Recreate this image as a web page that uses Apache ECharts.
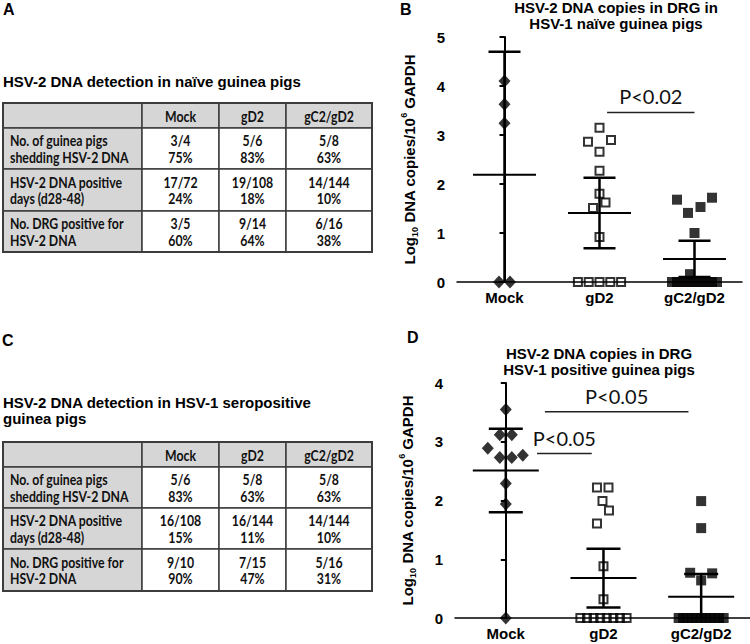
<!DOCTYPE html>
<html>
<head>
<meta charset="utf-8">
<script src="https://cdn.jsdelivr.net/npm/echarts@6/dist/echarts.min.js"></script>
<style>
  html, body { margin: 0; padding: 0; background: #fff; }
  #chart { width: 750px; height: 644px; }
</style>
</head>
<body>
<div id="chart"></div>
<script>
// x categories shared by the two scatter plots and the two tables
const groups = ['Mock', 'gD2', 'gC2/gD2'];

// panel B: Log10 DNA copies / 10^6 GAPDH, HSV-1 naive guinea pigs
const mockB = [4.10, 3.63, 3.24, 0, 0];
const gd2B = [3.15, 2.90, 2.86, 2.66, 2.27, 1.80, 1.62, 1.51, 0.92, 0, 0, 0, 0, 0];
const gc2gd2B = [1.72, 1.68, 1.53, 1.41, 1.00, 0.16, 0, 0, 0, 0, 0, 0, 0, 0, 0, 0];
const meanB = [2.19, 1.41, 0.47];
const sdB = [2.51, 0.72, 0.37];

// panel D: same measure, HSV-1 seropositive guinea pigs
const mockD = [3.55, 3.12, 3.12, 2.89, 2.77, 2.73, 2.73, 2.29, 1.94, 0];
const gd2D = [2.22, 2.22, 1.99, 1.83, 1.61, 0.88, 0.32, 0, 0, 0, 0, 0, 0, 0, 0];
const gc2gd2D = [1.99, 1.53, 0.77, 0.76, 0.64, 0, 0, 0, 0, 0, 0, 0, 0, 0, 0, 0];
const meanD = [2.51, 0.68, 0.36];
const sdD = [0.71, 0.50, 0.39];

// significance brackets: [from, to, level, label]
const sigB = [[1.08, 2.0, 3.46, 'P<0.02']];
const sigD = [[0.40, 1.87, 3.51, 'P<0.05'], [0.32, 0.88, 2.80, 'P<0.05']];

// tables A and C
const tableRows = ['No. of guinea pigs\nshedding HSV-2 DNA', 'HSV-2 DNA positive\ndays (d28-48)', 'No. DRG positive for\nHSV-2 DNA'];
const fracA = [['3/4', '5/6', '5/8'], ['17/72', '19/108', '14/144'], ['3/5', '9/14', '6/16']];
const pctA = [['75%', '83%', '63%'], ['24%', '18%', '10%'], ['60%', '64%', '38%']];
const fracC = [['5/6', '5/8', '5/8'], ['16/108', '16/144', '14/144'], ['9/10', '7/15', '5/16']];
const pctC = [['83%', '63%', '63%'], ['15%', '11%', '10%'], ['90%', '47%', '31%']];

// horizontal dodge of overlapping points (px), as laid out in the figure
const mockBDx = [0, 0, 0, -5.5, 5.5];
const gd2BDx = [0, 11.5, -11.5, 0, 0, 0, 6, -6.5, 0, -21.6, -10.8, 0, 10.8, 21.6];
const gc2gd2BDx = [17.5, -17.5, 6, -6.5, 0, -4.5, -22.5, -17.5, -12.5, -7.5, -2.5, 2.5, 7.5, 12.5, 17.5, 22.5];
const mockDDx = [0, -6, 6, -18, 17, -6, 6, 0, 0, 0];
const gd2DDx = [-6.5, 5, -1, 5.5, -6.5, 0, 0, -23.1, -16.5, -9.9, -3.3, 3.3, 9.9, 16.5, 23.1];
const gc2gd2DDx = [0, 0, -11, 11, 0, -22.5, -18, -13.5, -9, -4.5, 0, 4.5, 9, 13.5, 18, 22.5];

const SANS = '"Liberation Sans", Arial, sans-serif';
const TABLE_FONT = 'Lato, "Open Sans", sans-serif';

const chart = echarts.init(document.getElementById('chart'), null, { renderer: 'svg' });

const diamond = { symbol: 'diamond', symbolSize: [12, 13], itemStyle: { color: '#000' } };
const openSquare = { symbol: 'rect', symbolSize: 8, itemStyle: { color: 'rgba(0,0,0,0)', borderColor: '#000', borderWidth: 2 } };
const filledSquare = { symbol: 'rect', symbolSize: 10, itemStyle: { color: '#000' } };

function pointsSeries(axisIdx, groupIdx, values, dx, look) {
  return Object.assign({
    type: 'scatter',
    xAxisIndex: axisIdx,
    yAxisIndex: axisIdx,
    clip: false,
    z: 5,
    data: values.map((v, k) => ({ value: [groupIdx, v], symbolOffset: [dx[k], 0] })),
  }, look);
}

function errorBars(axisIdx, means, sds, meanHalf, capHalf) {
  return {
    type: 'custom',
    xAxisIndex: axisIdx,
    yAxisIndex: axisIdx,
    z: 3,
    encode: { x: 0, y: 1 },
    data: means.map((m, i) => [i, m, sds[i]]),
    renderItem(params, api) {
      const i = api.value(0);
      const m = api.value(1);
      const s = api.value(2);
      const c = api.coord([i, m]);
      const top = api.coord([i, m + s]);
      const low = m - s;
      const bot = api.coord([i, Math.max(0, low)]);
      const st = { stroke: '#000', lineWidth: 2.5 };
      const children = [
        { type: 'line', shape: { x1: c[0] - meanHalf, y1: c[1], x2: c[0] + meanHalf, y2: c[1] }, style: { stroke: '#000', lineWidth: 2 } },
        { type: 'line', shape: { x1: c[0], y1: top[1], x2: c[0], y2: bot[1] }, style: st },
        { type: 'line', shape: { x1: c[0] - capHalf, y1: top[1], x2: c[0] + capHalf, y2: top[1] }, style: st },
      ];
      if (low > 0) {
        children.push({ type: 'line', shape: { x1: c[0] - capHalf, y1: bot[1], x2: c[0] + capHalf, y2: bot[1] }, style: st });
      }
      return { type: 'group', children };
    },
  };
}

function sigBars(axisIdx, bars) {
  return {
    type: 'custom',
    xAxisIndex: axisIdx,
    yAxisIndex: axisIdx,
    z: 4,
    encode: { x: [0, 1], y: 2 },
    data: bars.map((b) => [b[0], b[1], b[2]]),
    renderItem(params, api) {
      const a = api.coord([api.value(0), api.value(2)]);
      const b = api.coord([api.value(1), api.value(2)]);
      return {
        type: 'group',
        children: [
          { type: 'line', shape: { x1: a[0], y1: a[1], x2: b[0], y2: b[1] }, style: { stroke: '#222', lineWidth: 1.5 } },
          {
            type: 'text',
            x: (a[0] + b[0]) / 2,
            y: a[1] - 6,
            style: {
              text: bars[params.dataIndex][3],
              align: 'center',
              verticalAlign: 'bottom',
              font: '20px ' + TABLE_FONT,
              fill: '#111',
            },
          },
        ],
      };
    },
  };
}

function xAxisFor(grid, min) {
  return {
    gridIndex: grid,
    type: 'value',
    min: min,
    max: 2.5,
    axisLine: { show: true, lineStyle: { color: '#000', width: 1.5 } },
    axisTick: { show: false },
    splitLine: { show: false },
    axisLabel: {
      customValues: [0, 1, 2],
      formatter: (v) => groups[Math.round(v)],
      color: '#000',
      fontFamily: SANS,
      fontWeight: 'bold',
      fontSize: 15,
      margin: 8,
    },
  };
}

function yAxisFor(grid, max) {
  return {
    gridIndex: grid,
    type: 'value',
    min: 0,
    max: max,
    interval: 1,
    axisLine: { show: true, lineStyle: { color: '#000', width: 2 } },
    axisTick: { show: true, length: 5, lineStyle: { color: '#000', width: 2 } },
    splitLine: { show: false },
    axisLabel: { color: '#000', fontFamily: SANS, fontWeight: 'bold', fontSize: 15, margin: 12 },
    name: 'Log{sub|10} DNA copies/10{sup|6} GAPDH',
    nameLocation: 'middle',
    nameRotate: 90,
    nameGap: 38,
    nameTextStyle: {
      color: '#000',
      fontFamily: SANS,
      fontWeight: 'bold',
      fontSize: 15,
      lineHeight: 20,
      rich: {
        sub: { fontFamily: SANS, fontWeight: 'bold', fontSize: 9, verticalAlign: 'bottom', lineHeight: 14 },
        sup: { fontFamily: SANS, fontWeight: 'bold', fontSize: 9, verticalAlign: 'top', lineHeight: 14 },
      },
    },
  };
}

// table built from the arrays above, drawn as graphic elements
// (Lato squeezed horizontally to get close to the narrow Calibri of the original)
function tableGraphic(colEdges, rowEdges, frac, pct) {
  const els = [];
  const border = '#3c3c3c';
  const textStyle = { font: 'bold 15px ' + TABLE_FONT, lineHeight: 16.5, fill: '#111', verticalAlign: 'middle' };
  for (let r = 0; r < rowEdges.length - 1; r++) {
    for (let c = 0; c < colEdges.length - 1; c++) {
      const gray = r === 0 || c === 0;
      els.push({
        type: 'rect',
        shape: { x: colEdges[c], y: rowEdges[r], width: colEdges[c + 1] - colEdges[c], height: rowEdges[r + 1] - rowEdges[r] },
        style: { fill: gray ? '#d6d6d6' : '#fff', stroke: border, lineWidth: 1.5 },
      });
      const cx = (colEdges[c] + colEdges[c + 1]) / 2;
      const cy = (rowEdges[r] + rowEdges[r + 1]) / 2;
      let text = null;
      if (r === 0 && c > 0) text = groups[c - 1];
      else if (r > 0 && c > 0) text = frac[r - 1][c - 1] + '\n' + pct[r - 1][c - 1];
      if (text) {
        els.push({ type: 'text', x: cx, y: cy, scaleX: 0.82, style: Object.assign({ text, align: 'center' }, textStyle) });
      } else if (c === 0 && r > 0) {
        els.push({ type: 'text', x: colEdges[0] + 7, y: cy, scaleX: 0.82, style: Object.assign({ text: tableRows[r - 1], align: 'left' }, textStyle) });
      }
    }
  }
  els.push({
    type: 'rect',
    shape: { x: colEdges[0], y: rowEdges[0], width: colEdges[colEdges.length - 1] - colEdges[0], height: rowEdges[rowEdges.length - 1] - rowEdges[0] },
    style: { fill: 'none', stroke: border, lineWidth: 2 },
  });
  return els;
}

function label(text, x, y, size, align) {
  return {
    type: 'text', x, y,
    style: { text, align: align || 'left', verticalAlign: 'top', font: 'bold ' + size + 'px ' + SANS, lineHeight: size + 1, fill: '#000' },
  };
}

const tableCols = [3, 142, 219, 286, 372];

const graphics = [].concat(
  [
    label('A', 3, 1, 16),
    label('HSV-2 DNA detection in naïve guinea pigs', 3, 73, 15),
    label('B', 400, 1, 16),
    label('HSV-2 DNA copies in DRG in\nHSV-1 naïve guinea pigs', 616, -1, 15, 'center'),
    label('C', 2, 332, 16),
    label('HSV-2 DNA detection in HSV-1 seropositive\nguinea pigs', 3, 394, 15),
    label('D', 407, 329, 16),
    label('HSV-2 DNA copies in DRG\nHSV-1 positive guinea pigs', 599, 345, 15, 'center'),
  ],
  tableGraphic(tableCols, [103, 128, 169, 211, 252], fracA, pctA),
  tableGraphic(tableCols, [442, 467, 508, 549, 591], fracC, pctC)
);

chart.setOption({
  animation: false,
  textStyle: { fontFamily: SANS },
  grid: [
    { left: 457, right: 8, top: 37, bottom: 362, outerBoundsMode: 'none' },
    { left: 455, right: 0, top: 383, bottom: 26, outerBoundsMode: 'none' },
  ],
  xAxis: [xAxisFor(0, -0.5), xAxisFor(1, -0.52)],
  yAxis: [yAxisFor(0, 5), yAxisFor(1, 4)],
  graphic: graphics,
  series: [
    errorBars(0, meanB, sdB, 31.5, 16),
    errorBars(1, meanD, sdD, 33, 17),
    pointsSeries(0, 0, mockB, mockBDx, diamond),
    pointsSeries(0, 1, gd2B, gd2BDx, openSquare),
    pointsSeries(0, 2, gc2gd2B, gc2gd2BDx, filledSquare),
    pointsSeries(1, 0, mockD, mockDDx, diamond),
    pointsSeries(1, 1, gd2D, gd2DDx, openSquare),
    pointsSeries(1, 2, gc2gd2D, gc2gd2DDx, filledSquare),
    sigBars(0, sigB),
    sigBars(1, sigD),
  ],
});
</script>
</body>
</html>
